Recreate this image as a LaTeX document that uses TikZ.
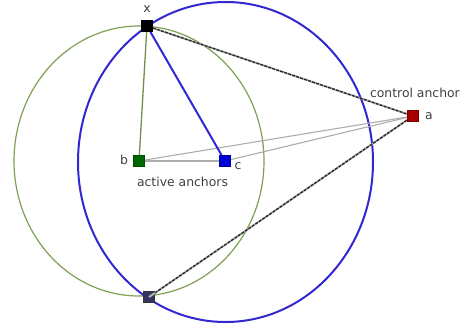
\documentclass[tikz,border=0pt]{standalone}
\usepackage{fontspec}
\setmainfont{DejaVu Sans}
\usetikzlibrary{positioning}
\begin{document}
\begin{tikzpicture}[x=1pt,y=-1pt,
  anchorbox/.style={draw, minimum size=11pt, inner sep=0pt, line width=0.8pt},
  lbl/.style={font=\fontsize{12.4}{14}\selectfont, text=black!75, inner sep=1pt},
  thin gray/.style={draw=gray!65, line width=1.1pt},
  dashline/.style={draw=black!85, dashed, dash pattern=on 3pt off 1.2pt, line width=1.3pt}]
\useasboundingbox (0,0) rectangle (462,329);
\definecolor{grcirc}{RGB}{125,160,85}
\definecolor{blcirc}{RGB}{50,40,210}
% circles
\draw[grcirc, line width=1.2pt] (139,161) ellipse [x radius=125, y radius=135];
\draw[blcirc, line width=2pt] (225.5,162) ellipse [x radius=147.5, y radius=160];
% nodes
\node[anchorbox, fill=black, draw=black] (x) at (147,26) {};
\node[anchorbox, fill=green!40!black, draw=green!30!black] (b) at (139,161) {};
\node[anchorbox, fill=blue!85!black, draw=blue!60!black] (c) at (225,161) {};
\node[anchorbox, fill=red!65!black, draw=red!50!black] (a) at (413,116) {};
\node[anchorbox, fill=black!70!blue!60!gray, draw=black!80] (d) at (149,297) {};
% lines
\draw[thin gray] (b.center) -- (c.center);
\draw[thin gray] (b.center) -- (a.center);
\draw[thin gray] (c.center) -- (a.center);
\draw[gray!60, line width=2pt] (x.center) -- (a.center);
\draw[gray!60, line width=2pt] (d.center) -- (a.center);
\draw[dashline] (x) -- (a);
\draw[dashline] (d) -- (a);
\draw[grcirc!90!black, line width=1.3pt] (x) -- (b);
\draw[blcirc, line width=2pt] (x) -- (c);
% redraw nodes on top
\node[anchorbox, fill=black, draw=black] at (x) {};
\node[anchorbox, fill=green!40!black, draw=green!30!black] at (b) {};
\node[anchorbox, fill=blue!85!black, draw=blue!60!black] at (c) {};
\node[anchorbox, fill=red!65!black, draw=red!50!black] at (a) {};
% labels
\node[lbl] (xl) at (147,9) {x};
\node[lbl] (bl) at (124,160) {b};
\node[lbl] (cl) at (238,166) {c};
\node[lbl] (al) at (429,116) {a};
\node[lbl] (act) at (182.5,182) {active anchors};
\node[lbl, anchor=east] (ctl) at (461,93) {control anchor};
\end{tikzpicture}
\end{document}
